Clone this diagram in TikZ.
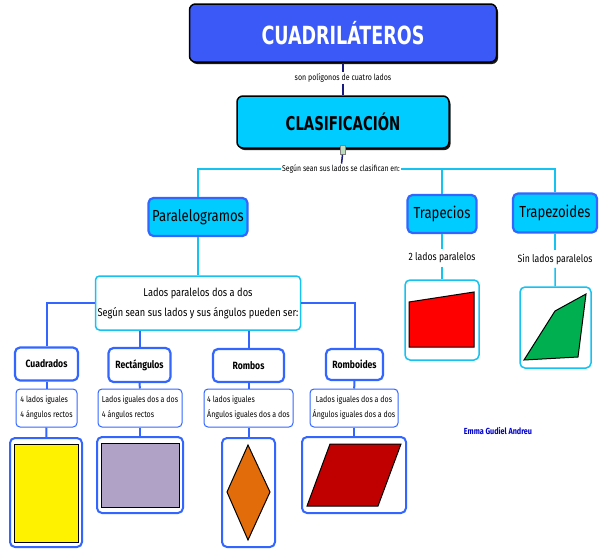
\documentclass[tikz,border=0pt]{standalone}
\usepackage{fontspec}
\setmainfont{Fira Sans}[FakeStretch=0.82]
\newfontfamily\headfont{DejaVu Sans Condensed}[FakeStretch=0.78]
\usetikzlibrary{positioning,shadows}
\definecolor{titleblue}{RGB}{59,89,247}
\definecolor{boxcyan}{RGB}{0,204,255}
\definecolor{lineblue}{RGB}{51,102,255}
\definecolor{linecyan}{RGB}{20,195,240}
\definecolor{navy}{RGB}{25,25,130}
\definecolor{lilac}{RGB}{176,162,198}
\definecolor{rhomb}{RGB}{227,108,10}
\definecolor{wine}{RGB}{192,0,0}
\definecolor{leaf}{RGB}{0,176,80}

\begin{document}
\begin{tikzpicture}[x=1pt, y=-1pt,
		head/.style={draw=black, line width=1.5pt, rounded corners=6pt, inner sep=0pt,
			drop shadow={fill=black, opacity=0.9, shadow xshift=1.5pt, shadow yshift=-2pt}},
		group/.style={draw=lineblue, fill=boxcyan, line width=2.2pt, rounded corners=5pt, inner sep=0pt,
			font=\fontsize{16}{18}\selectfont},
		kind/.style={draw=lineblue, fill=white, line width=2.2pt, rounded corners=5pt, inner sep=0pt,
			font=\bfseries\fontsize{10.5}{12}\selectfont},
		info/.style={draw=lineblue, fill=white, line width=1pt, rounded corners=4pt, inner sep=0pt,
			font=\fontsize{8.6}{15}\selectfont},
		frame/.style={draw=lineblue, fill=white, line width=2pt, rounded corners=5pt, inner sep=0pt},
		cframe/.style={frame, draw=linecyan, line width=1.5pt},
		tag/.style={fill=white, inner sep=1pt},
		link/.style={lineblue, line width=2pt},
		clink/.style={linecyan, line width=1.5pt},
		figure/.style={draw=black, line width=1pt}
	]
	\useasboundingbox (0,0) rectangle (616,554);

	\node[head, fill=titleblue, text=white, minimum width=307, minimum height=58,
		font=\headfont\bfseries\fontsize{25}{28}\selectfont] (title) at (343,33) {CUADRILÁTEROS};
	\node[tag, font=\fontsize{8.6}{10}\selectfont] (poly) at (343,78) {son polígonos de cuatro lados};
	\node[head, fill=boxcyan, minimum width=212, minimum height=52,
		font=\headfont\bfseries\fontsize{19}{22}\selectfont] (clas) at (343,122) {CLASIFICACIÓN};
	\node[draw=gray, fill=green!30!gray!40, line width=0.6pt, minimum width=5, minimum height=9, inner sep=0pt] (icon) at (343,150) {};
	\node[tag, font=\fontsize{8.4}{10}\selectfont] (sides) at (341,169) {Según sean sus lados se clasifican en:};

	\node[group, minimum width=99, minimum height=38] (par) at (198,217) {Paralelogramos};
	\node[group, minimum width=69, minimum height=38] (trap) at (442,214) {Trapecios};
	\node[group, minimum width=84, minimum height=39] (trapz) at (555,213) {Trapezoides};

	\node[info, draw=linecyan, line width=1.5pt, minimum width=205, minimum height=54, align=center,
		font=\fontsize{11.3}{20}\selectfont] (pardesc) at (198,303) {Lados paralelos dos a dos\\Según sean sus lados y sus ángulos pueden ser:};
	\node[font=\fontsize{10.6}{12}\selectfont] (trapdesc) at (442,258) {2 lados paralelos};
	\node[font=\fontsize{10.6}{12}\selectfont] (trapzdesc) at (555,259) {Sin lados paralelos};
	\node[cframe, minimum width=74, minimum height=80] (trapimg) at (442,320) {};
	\node[cframe, minimum width=71, minimum height=81] (trapzimg) at (555.5,327.5) {};

	\node[kind, minimum width=63, minimum height=33] (cuad) at (46.5,364) {Cuadrados};
	\node[kind, minimum width=62, minimum height=34] (rect) at (139.5,365) {Rectángulos};
	\node[kind, minimum width=71, minimum height=33] (romb) at (248.5,365.5) {Rombos};
	\node[kind, minimum width=57, minimum height=31] (rbd) at (354.5,364.5) {Romboides};

	\node[info, minimum width=61, minimum height=38, align=left] (cuaddesc) at (46.5,408) {4 lados iguales\\4 ángulos rectos};
	\node[info, minimum width=84, minimum height=38, align=left] (rectdesc) at (140,408) {Lados iguales dos a dos\\4 ángulos rectos};
	\node[info, minimum width=89, minimum height=38, align=left] (rombdesc) at (248.5,408) {4 lados iguales\\Ángulos iguales dos a dos};
	\node[info, minimum width=88, minimum height=38, align=center] (rbddesc) at (354,408) {Lados iguales dos a dos\\Ángulos iguales dos a dos};

	\node[frame, minimum width=72, minimum height=109] (cuadimg) at (46,492.5) {};
	\node[frame, minimum width=86, minimum height=76] (rectimg) at (140,475) {};
	\node[frame, minimum width=53, minimum height=109] (rombimg) at (248.5,492.5) {};
	\node[frame, minimum width=104, minimum height=76] (rbdimg) at (354,475) {};

	\node[text=blue!80!black, font=\bfseries\fontsize{8.8}{10}\selectfont] (author) at (498,431) {Emma Gudiel Andreu};

	\filldraw[figure, fill=yellow] (14,444) rectangle (78,542);
	\filldraw[figure, fill=lilac] (101,443) rectangle (179,507);
	\filldraw[figure, fill=rhomb] (248,445) -- (270,492) -- (248,540) -- (227,492) -- cycle;
	\filldraw[figure, fill=wine] (330,444) -- (401,444) -- (378,506) -- (307,506) -- cycle;
	\filldraw[figure, fill=red] (409,302) -- (474,292) -- (474,347) -- (409,347) -- cycle;
	\filldraw[figure, fill=leaf] (586,294) -- (578,357) -- (524,360) -- (555,311) -- cycle;

	\draw[navy, line width=1.5pt] (title) -- (poly);
	\draw[navy, line width=1.5pt] (poly) -- (clas);
	\draw[navy, line width=1.5pt] (icon) -- (sides);
	\draw[clink] (sides.west) -| (par.north);
	\draw[clink] (sides.east) -| (trapz.north);
	\draw[clink] (trap.north) -- (trap.north |- sides.east);
	\draw[clink] (par) -- (pardesc);
	\draw[clink] (trap) -- (trapdesc);
	\draw[clink] (trapdesc) -- (trapimg);
	\draw[clink] (trapz) -- (trapzdesc);
	\draw[clink] (trapzdesc) -- (trapzimg);

	\draw[link] (pardesc.west) -| (cuad.north);
	\draw[link] (pardesc.east) -| (rbd.north);
	\draw[link] (rect.north) -- (rect.north |- pardesc.south);
	\draw[link] (romb.north) -- (romb.north |- pardesc.south);
	\draw[link] (cuad) -- (cuaddesc);
	\draw[link] (cuaddesc) -- (cuadimg);
	\draw[link] (rect) -- (rectdesc);
	\draw[link] (rectdesc) -- (rectimg);
	\draw[link] (romb) -- (rombdesc);
	\draw[link] (rombdesc) -- (rombimg);
	\draw[link] (rbd) -- (rbddesc);
	\draw[link] (rbddesc) -- (rbdimg);
\end{tikzpicture}
\end{document}
